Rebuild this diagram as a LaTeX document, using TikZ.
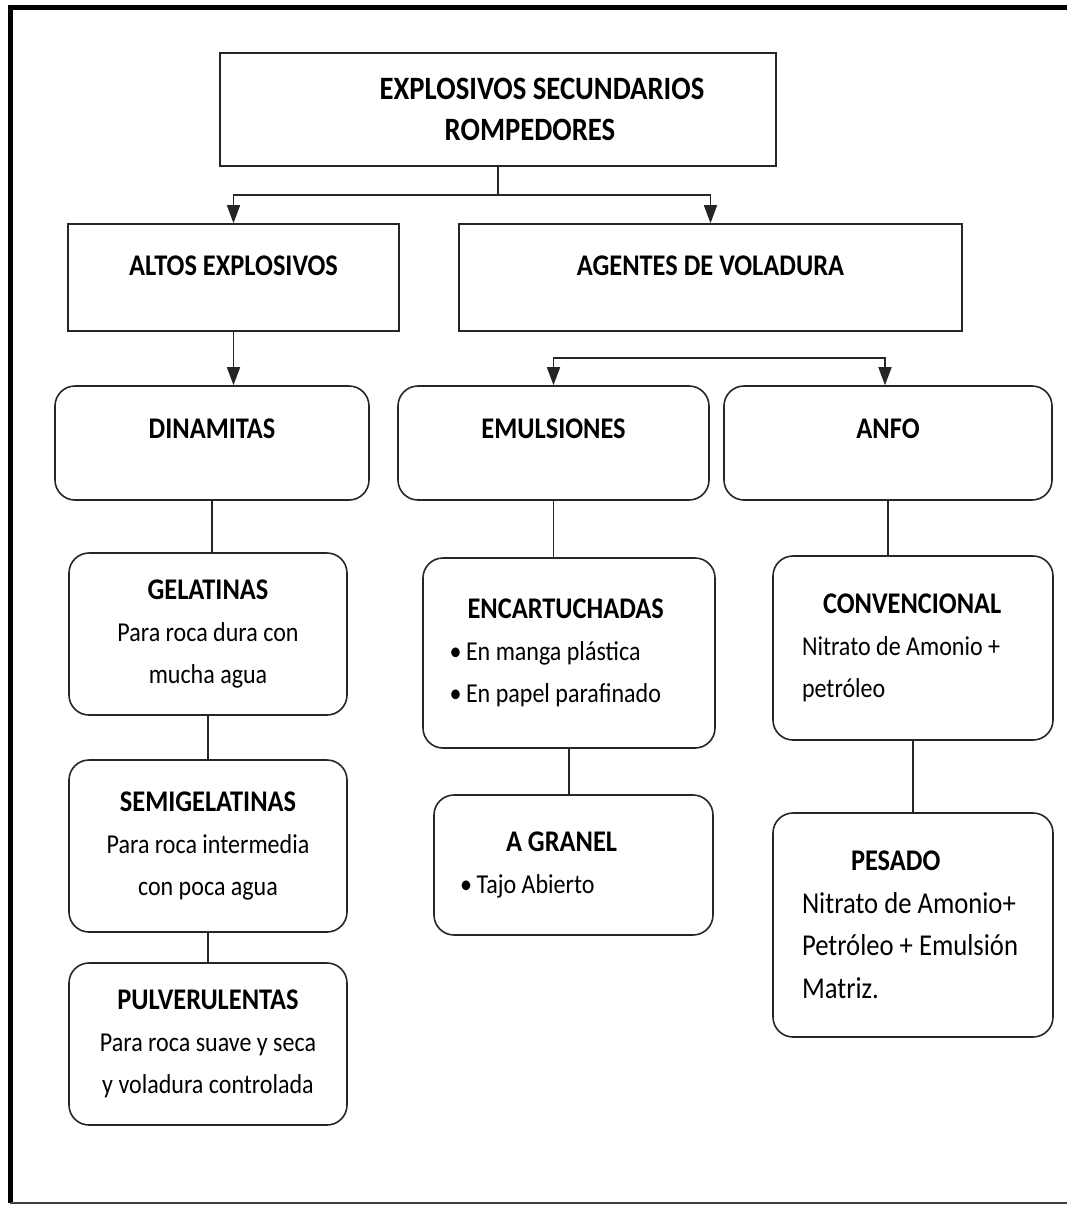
\documentclass[tikz,border=0pt]{standalone}
\usepackage{fontspec}
\setmainfont{Carlito}[FakeStretch=0.88]
\usetikzlibrary{arrows.meta}
\newcommand\hd[1]{{\fontsize{30}{41}\selectfont\bfseries #1}}
\newcommand\bodyf{\fontsize{27.3}{42}\selectfont}
\tikzset{
  box/.style={draw=black!85, line width=1.6pt, inner sep=0pt, align=center, font=\bodyf},
  rbox/.style={box, rounded corners=20pt},
  conn/.style={draw=black!85, line width=1.6pt},
  arr/.style={conn, -{Triangle[width=13pt,length=18pt]}},
  leftbox/.style={rbox, align=left, execute at begin node={\spaceskip=0pt\xspaceskip=0pt}},
}
\begin{document}
\begin{tikzpicture}[x=1pt,y=-1pt]
\useasboundingbox (0,0) rectangle (1067,1207);
% frame
\draw[line width=5pt] (10,1203) -- (10,8) -- (1067,8);
\draw[line width=1.5pt, black!75] (10,1203) -- (1067,1203);

% level 1
\node[box, minimum width=556pt, minimum height=113pt,
      font=\fontsize{32.6}{41}\selectfont\bfseries] (top) at (498,109.5)
  {\hspace*{88pt}EXPLOSIVOS SECUNDARIOS\\\hspace*{64pt}ROMPEDORES};

% level 2
\node[box, minimum width=331pt, minimum height=107pt] (altos) at (233.5,277.5)
  {\raisebox{12pt}[\height][\depth]{\hd{ALTOS EXPLOSIVOS}}};
\node[box, minimum width=503pt, minimum height=107pt] (agentes) at (710.5,277.5)
  {\raisebox{12pt}[\height][\depth]{\hd{AGENTES DE VOLADURA}}};

% level 3
\node[rbox, minimum width=314pt, minimum height=114pt] (dinam) at (212,443)
  {\raisebox{14pt}[\height][\depth]{\hd{DINAMITAS}}};
\node[rbox, minimum width=311pt, minimum height=114pt] (emul) at (553.5,443)
  {\raisebox{14pt}[\height][\depth]{\hd{EMULSIONES}}};
\node[rbox, minimum width=328pt, minimum height=114pt] (anfo) at (888,443)
  {\raisebox{14pt}[\height][\depth]{\hd{ANFO}}};

% dinamitas column
\node[rbox, minimum width=278pt, minimum height=162pt] (gel) at (208,634)
  {\hd{GELATINAS}\\Para roca dura con\\mucha agua};
\node[rbox, minimum width=278pt, minimum height=172pt] (semi) at (208,846)
  {\hd{SEMIGELATINAS}\\Para roca intermedia\\con poca agua};
\node[rbox, minimum width=278pt, minimum height=162pt] (pulv) at (208,1044)
  {\hd{PULVERULENTAS}\\Para roca suave y seca\\y voladura controlada};

% emulsiones column
\node[leftbox, minimum width=292pt, minimum height=190pt, text width=239pt, inner xsep=26.5pt] (encart) at (569,653)
  {\hspace*{18pt}\hd{ENCARTUCHADAS}\\\mbox{•\,En manga plástica}\\\mbox{•\,En papel parafinado}};
\node[leftbox, minimum width=279pt, minimum height=140pt, text width=227pt, inner xsep=26pt] (granel) at (573.5,865)
  {\hspace*{46pt}\hd{A GRANEL}\\\mbox{•\,Tajo Abierto}};

% anfo column
\node[leftbox, minimum width=280pt, minimum height=184pt, text width=222pt, inner xsep=29pt] (conv) at (913,648)
  {\hspace*{21pt}\hd{CONVENCIONAL}\\\mbox{Nitrato de Amonio +}\\petróleo};
\node[leftbox, minimum width=280pt, minimum height=224pt, text width=222pt, inner xsep=29pt,
      font=\fontsize{30.3}{42.5}\selectfont] (pesado) at (913,925)
  {\hspace*{49pt}\hd{PESADO}\\\mbox{Nitrato de Amonio+}\\\mbox{Petróleo + Emulsión}\\Matriz.};

% connectors
\coordinate (j1) at (498,195);
\draw[conn] (top.south) -- (j1);
\draw[arr] (j1) -| (altos.north);
\draw[arr] (j1) -| (agentes.north);
\draw[arr] (altos.south) -- (altos.south |- dinam.north);
\coordinate (j2) at (742,358);
\draw[arr] (j2) -| (emul.north);
\draw[arr] (j2) -| ([xshift=-3pt]anfo.north);
\draw[conn] (dinam.south) -- (dinam.south |- gel.north);
\draw[conn] (gel.south) -- (semi.north);
\draw[conn] (semi.south) -- (pulv.north);
\draw[conn] (emul.south) -- (emul.south |- encart.north);
\draw[conn] (encart.south) -- (encart.south |- granel.north);
\draw[conn] (anfo.south) -- (anfo.south |- conv.north);
\draw[conn] (conv.south) -- (pesado.north);
\end{tikzpicture}
\end{document}
